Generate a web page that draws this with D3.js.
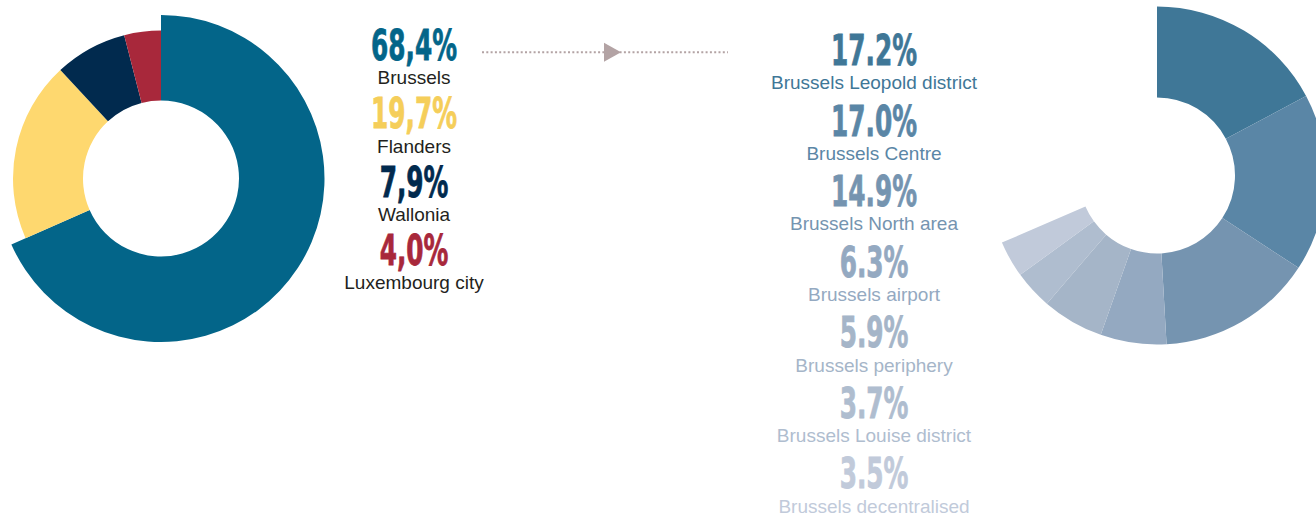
<!DOCTYPE html>
<html><head><meta charset="utf-8">
<script src="https://cdn.jsdelivr.net/npm/d3@7"></script>
<style>html,body{margin:0;padding:0;background:#fff;}svg{display:block;}</style>
</head><body>
<svg id="chart" width="1316" height="517"></svg>
<script>
// ---- data ----
const regions = ["Brussels", "Flanders", "Wallonia", "Luxembourg city"];
const regionLabels = ["68,4%", "19,7%", "7,9%", "4,0%"];
const regionValues = [68.4, 19.7, 7.9, 4.0];
const regionColors = ["#036589", "#FED86F", "#012A4E", "#A8283B"];

const districts = ["Brussels Leopold district", "Brussels Centre", "Brussels North area", "Brussels airport", "Brussels periphery", "Brussels Louise district", "Brussels decentralised"];
const districtLabels = ["17.2%", "17.0%", "14.9%", "6.3%", "5.9%", "3.7%", "3.5%"];
const districtValues = [17.2, 17.0, 14.9, 6.3, 5.9, 3.7, 3.5];
const districtColors = ["#3F7797", "#5A86A6", "#7594B0", "#94A9C1", "#A5B5C8", "#AFBDCF", "#C1CADA"];

const svg = d3.select("#chart");
const numFont = "'Liberation Sans Narrow','DejaVu Sans Condensed','Arial Narrow',sans-serif";
const lblFont = "'Liberation Sans',Arial,Helvetica,sans-serif";

// ---- left donut ----
const left = svg.append("g").attr("transform", "translate(161,178.5)");
const pieL = d3.pie().sort(null).value(d => d)(regionValues);
const rOuterL = d3.scaleOrdinal().domain(regions).range([163.5, 148, 148, 148]);
left.selectAll("path").data(pieL).join("path")
  .attr("d", (d, i) => d3.arc().innerRadius(78).outerRadius(rOuterL(regions[i]))(d))
  .attr("fill", (d, i) => regionColors[i]);

// ---- right donut (fraction of full circle) ----
const right = svg.append("g").attr("transform", "translate(1157,175.5)");
const angle = d3.scaleLinear().domain([0, 100]).range([0, 2 * Math.PI]);
let cum = 0;
const arcsR = districtValues.map(v => { const a = {startAngle: angle(cum), endAngle: angle(cum + v)}; cum += v; return a; });
right.selectAll("path").data(arcsR).join("path")
  .attr("d", d3.arc().innerRadius(78).outerRadius(169))
  .attr("fill", (d, i) => districtColors[i]);

// ---- number + label helper ----
function numberStack(cx, names, nums, numColors, lblColors, yNum, step) {
  const g = svg.append("g");
  names.forEach((n, i) => {
    const yb = yNum + i * step;
    const t = g.append("text").text(nums[i])
      .attr("x", 0).attr("y", 0)
      .attr("text-anchor", "middle")
      .style("font-family", numFont).style("font-weight", "bold").style("font-size", "43px")
      .attr("fill", numColors[i]).attr("stroke", numColors[i]).attr("stroke-width", 0.8);
    t.attr("data-cx", cx).attr("data-y", yb);
    g.append("text").text(n)
      .attr("x", cx).attr("y", yb + 24.3)
      .attr("text-anchor", "middle")
      .style("font-family", lblFont).style("font-size", "19px")
      .attr("fill", lblColors[i]);
  });
  return g;
}

const gL = numberStack(414, regions, regionLabels, regionColors.map((c, i) => i === 1 ? "#F5CE5A" : c), regions.map(() => "#231F20"), 60, 68.33);
const gR = numberStack(874, districts, districtLabels, districtColors, districtColors, 65, 70.55);

// condense numbers to reference width
const probe = svg.append("text").text("68,4%").style("font-family", numFont).style("font-weight", "bold").style("font-size", "43px");
const sx = 86 / probe.node().getComputedTextLength();
probe.remove();
svg.selectAll("text[data-cx]").each(function() {
  const s = d3.select(this);
  s.attr("transform", `translate(${s.attr("data-cx")},${s.attr("data-y")}) scale(${sx},1)`);
});

// ---- arrow ----
const arrowCol = "#B3A3A4";
const ax = d3.scaleLinear().domain([0, 1]).range([482, 728]);
svg.append("line").attr("x1", ax(0)).attr("x2", ax(1)).attr("y1", 52.3).attr("y2", 52.3)
  .attr("stroke", arrowCol).attr("stroke-width", 2).attr("stroke-dasharray", "2,2.3");
svg.append("path").attr("d", "M604,42.7L621,52.3L604,61.7Z").attr("fill", arrowCol);
</script>
</body></html>
